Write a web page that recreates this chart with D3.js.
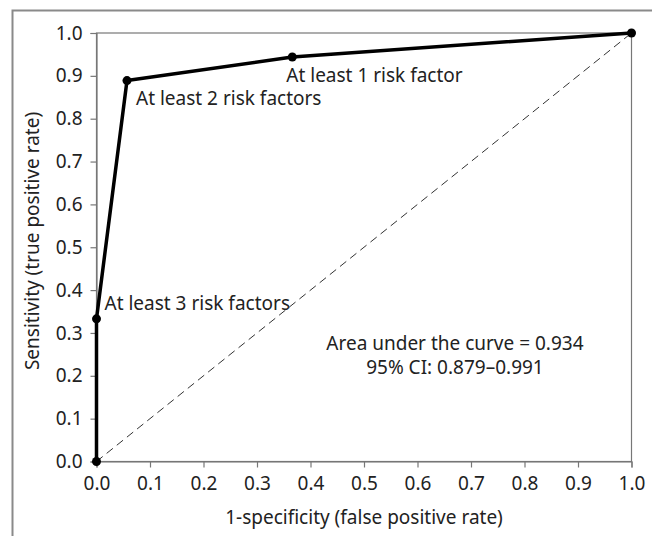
<!DOCTYPE html>
<html>
<head>
<meta charset="utf-8">
<script src="https://cdn.jsdelivr.net/npm/d3@7"></script>
<style>
  body { margin: 0; background: #fff; }
  text { font-family: "Noto Sans", "Open Sans", sans-serif; fill: #222; }
</style>
</head>
<body>
<div id="chart"></div>
<script>
// ROC curve points (1-specificity, sensitivity)
const fpr = [0, 0, 0.057, 0.366, 1];
const tpr = [0, 0.333, 0.889, 0.944, 1];
const pointLabels = ['', 'At least 3 risk factors', 'At least 2 risk factors', 'At least 1 risk factor', ''];
const tickValues = [0, 0.1, 0.2, 0.3, 0.4, 0.5, 0.6, 0.7, 0.8, 0.9, 1.0];
const aucLines = ['Area under the curve = 0.934', '95% CI: 0.879\u20130.991'];

const W = 652, H = 536;
const margin = {left: 96.5, top: 33, right: 20, bottom: 74.5};
const fs = 19;

const svg = d3.select('#chart').append('svg')
    .attr('width', W)
    .attr('height', H);

// outer frame (top + left edge)
svg.append('path')
    .attr('d', `M12.5,${H} V10.5 H${W}`)
    .attr('fill', 'none')
    .attr('stroke', '#8a8a8a')
    .attr('stroke-width', 2);

const x = d3.scaleLinear().domain([0, 1]).range([margin.left, W - margin.right - 0.5]);
const y = d3.scaleLinear().domain([0, 1]).range([H - margin.bottom, margin.top]);

// plot box
svg.append('rect')
    .attr('x', x(0)).attr('y', y(1))
    .attr('width', x(1) - x(0)).attr('height', y(0) - y(1))
    .attr('fill', 'none')
    .attr('stroke', '#777')
    .attr('stroke-width', 1.2);

const xAxis = svg.append('g')
    .attr('transform', `translate(0,${y(0)})`)
    .call(d3.axisBottom(x).tickValues(tickValues).tickFormat(d3.format('.1f')).tickSize(6).tickPadding(9));
const yAxis = svg.append('g')
    .attr('transform', `translate(${x(0)},0)`)
    .call(d3.axisLeft(y).tickValues(tickValues).tickFormat(d3.format('.1f')).tickSize(6).tickPadding(8));

[xAxis, yAxis].forEach(g => {
  g.attr('font-size', fs).attr('font-family', null);
  g.select('.domain').attr('stroke', '#777').attr('stroke-width', 1.2);
  g.selectAll('.tick line').attr('stroke', '#777').attr('stroke-width', 1.2);
  g.selectAll('.tick text').attr('fill', '#222');
});

// reference diagonal
svg.append('line')
    .attr('x1', x(0)).attr('y1', y(0))
    .attr('x2', x(1)).attr('y2', y(1))
    .attr('stroke', '#333')
    .attr('stroke-width', 1)
    .attr('stroke-dasharray', '8,5');

const pts = fpr.map((d, i) => ({x: d, y: tpr[i], label: pointLabels[i]}));

svg.append('path')
    .datum(pts)
    .attr('fill', 'none')
    .attr('stroke', '#000')
    .attr('stroke-width', 3.5)
    .attr('stroke-linejoin', 'round')
    .attr('d', d3.line().x(d => x(d.x)).y(d => y(d.y)));

svg.selectAll('circle.pt')
    .data(pts)
    .join('circle')
    .attr('class', 'pt')
    .attr('cx', d => x(d.x))
    .attr('cy', d => y(d.y))
    .attr('r', 4.5)
    .attr('fill', '#000');

// point labels
const labelOffset = [[0, 0], [8, -9], [9, 24], [-6, 25], [0, 0]];
svg.selectAll('text.pl')
    .data(pts)
    .join('text')
    .attr('class', 'pl')
    .attr('x', (d, i) => x(d.x) + labelOffset[i][0])
    .attr('y', (d, i) => y(d.y) + labelOffset[i][1])
    .attr('font-size', fs)
    .text(d => d.label);

// AUC annotation
svg.append('text')
    .attr('x', x(0.67))
    .attr('y', y(0.26))
    .attr('text-anchor', 'middle')
    .attr('font-size', fs)
    .selectAll('tspan')
    .data(aucLines)
    .join('tspan')
    .attr('x', x(0.67))
    .attr('dy', (d, i) => i === 0 ? 0 : 24)
    .text(d => d);

// axis titles
svg.append('text')
    .attr('x', (x(0) + x(1)) / 2)
    .attr('y', 524)
    .attr('text-anchor', 'middle')
    .attr('font-size', fs)
    .text('1-specificity (false positive rate)');

svg.append('text')
    .attr('transform', `translate(39,241) rotate(-90)`)
    .attr('text-anchor', 'middle')
    .attr('font-size', fs)
    .text('Sensitivity (true positive rate)');
</script>
</body>
</html>
